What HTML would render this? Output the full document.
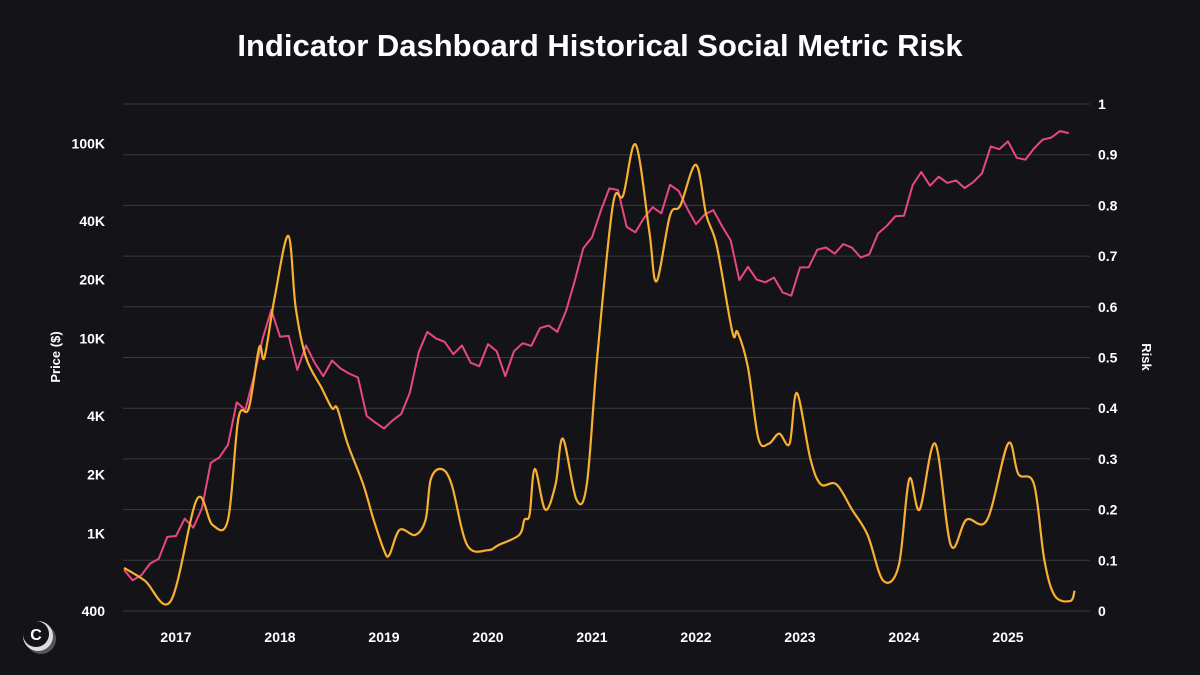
<!DOCTYPE html>
<html><head><meta charset="utf-8"><style>
html,body{margin:0;padding:0;background:#131318;}
svg{display:block;font-family:"Liberation Sans",sans-serif;}
</style></head><body>
<svg id="chart" width="1200" height="675" viewBox="0 0 1200 675">
<rect width="1200" height="675" fill="#131318"/>
<text x="600" y="56" text-anchor="middle" fill="#fff" font-size="31" font-weight="bold">Indicator Dashboard Historical Social Metric Risk</text>
<g id="grid"></g><g id="axes"></g><g id="series"></g>
<text transform="translate(60,357) rotate(-90)" text-anchor="middle" fill="#fff" font-size="13" font-weight="bold">Price ($)</text>
<text transform="translate(1142,357) rotate(90)" text-anchor="middle" fill="#fff" font-size="13" font-weight="bold">Risk</text>
<g><circle cx="41" cy="639" r="15" fill="#555"/><circle cx="38" cy="636" r="15" fill="#ddd"/><circle cx="36" cy="634" r="13" fill="#131318"/><text x="36" y="640" text-anchor="middle" fill="#fff" font-size="16" font-weight="bold">C</text></g>
</svg>
<script>
const priceDates=[];for(let i=0;i<110;i++)priceDates.push(2016.5+i/12);
const priceValues=[650,575,610,700,740,960,970,1190,1070,1350,2300,2450,2850,4700,4300,6400,10000,14000,10200,10300,6900,9200,7500,6400,7700,7000,6600,6300,4000,3700,3450,3800,4100,5300,8500,10800,10000,9600,8300,9200,7500,7200,9350,8600,6400,8600,9450,9150,11300,11650,10800,13800,19700,29000,33000,45000,58800,57700,37300,35000,41500,47100,43800,61300,57000,46300,38500,43200,45500,37700,31800,19900,23300,20000,19400,20500,17200,16550,23100,23150,28500,29250,27200,30500,29200,26000,27000,34500,37700,42300,42600,61200,71300,60700,67500,62700,64600,59000,63300,70200,96400,93400,102400,84400,82500,94200,104600,107100,115700,113000];
const riskDates=[2016.5,2016.7,2016.95,2017.2,2017.35,2017.5,2017.6,2017.7,2017.8,2017.85,2017.95,2018.08,2018.15,2018.25,2018.4,2018.5,2018.55,2018.65,2018.8,2018.9,2019.0,2019.05,2019.15,2019.3,2019.4,2019.45,2019.55,2019.65,2019.8,2020.0,2020.1,2020.3,2020.35,2020.4,2020.45,2020.55,2020.65,2020.72,2020.85,2020.95,2021.05,2021.2,2021.3,2021.42,2021.55,2021.62,2021.75,2021.85,2022.0,2022.1,2022.2,2022.35,2022.4,2022.5,2022.6,2022.7,2022.8,2022.9,2022.97,2023.1,2023.2,2023.35,2023.5,2023.65,2023.8,2023.95,2024.05,2024.15,2024.3,2024.45,2024.6,2024.8,2025.0,2025.1,2025.25,2025.35,2025.45,2025.6,2025.64];
const riskValues=[0.085,0.06,0.02,0.22,0.17,0.18,0.38,0.4,0.52,0.5,0.62,0.74,0.6,0.5,0.44,0.4,0.4,0.33,0.25,0.18,0.12,0.11,0.16,0.15,0.18,0.26,0.28,0.25,0.13,0.12,0.13,0.15,0.18,0.19,0.28,0.2,0.25,0.34,0.22,0.25,0.5,0.8,0.82,0.92,0.75,0.65,0.78,0.8,0.88,0.78,0.72,0.55,0.55,0.48,0.34,0.33,0.35,0.33,0.43,0.3,0.25,0.25,0.2,0.15,0.06,0.09,0.26,0.2,0.33,0.13,0.18,0.18,0.33,0.27,0.25,0.1,0.03,0.02,0.04];
const yearTicks=[2017,2018,2019,2020,2021,2022,2023,2024,2025];
const priceTicks=[400,1000,2000,4000,10000,20000,40000,100000];
const priceTickLabels=["400","1K","2K","4K","10K","20K","40K","100K"];
const riskTicks=[0,0.1,0.2,0.3,0.4,0.5,0.6,0.7,0.8,0.9,1];
const NS="http://www.w3.org/2000/svg";
const X0=123,X1=1090;
const xS=y=>176+(y-2017)*104;
const yP=p=>611-Math.log10(p/400)*195;
const yR=r=>611-r*507;
function mk(t,a,parent){const e=document.createElementNS(NS,t);for(const k in a)e.setAttribute(k,a[k]);document.getElementById(parent).appendChild(e);return e;}
riskTicks.forEach(r=>{
 const l=mk('line',{x1:X0,x2:X1,y1:yR(r),y2:yR(r),stroke:'#3a3a42','stroke-width':1},'grid');
 
 
 const t=mk('text',{x:1098,y:yR(r)+5,fill:'#fff','font-size':14,'font-weight':'bold'},'axes');t.textContent=String(r);
 
 
});
priceTicks.forEach((p,i)=>{
 const t=mk('text',{x:105,y:yP(p)+5,fill:'#fff','font-size':14,'font-weight':'bold','text-anchor':'end'},'axes');t.textContent=priceTickLabels[i];
 
 
});
yearTicks.forEach(y=>{
 const t=mk('text',{x:xS(y),y:642,fill:'#fff','font-size':14,'font-weight':'bold','text-anchor':'middle'},'axes');t.textContent=String(y);
 
 
});
function smooth(pts){
 let d='M'+pts[0][0].toFixed(1)+','+pts[0][1].toFixed(1);
 for(let i=0;i<pts.length-1;i++){
  const p0=pts[Math.max(0,i-1)],p1=pts[i],p2=pts[i+1],p3=pts[Math.min(pts.length-1,i+2)];
  const c1=[p1[0]+(p2[0]-p0[0])/6,p1[1]+(p2[1]-p0[1])/6];
  const c2=[p2[0]-(p3[0]-p1[0])/6,p2[1]-(p3[1]-p1[1])/6];
  d+=' C'+c1[0].toFixed(1)+','+c1[1].toFixed(1)+' '+c2[0].toFixed(1)+','+c2[1].toFixed(1)+' '+p2[0].toFixed(1)+','+p2[1].toFixed(1);
 }
 return d;
}
const pp=mk('polyline',{points:priceDates.map((d,i)=>xS(d).toFixed(1)+','+yP(priceValues[i]).toFixed(1)).join(' '),fill:'none',stroke:'#e8487f','stroke-width':2,'stroke-linejoin':'round'},'series');


const rp=mk('path',{d:smooth(riskDates.map((d,i)=>[xS(d),yR(riskValues[i])])),fill:'none',stroke:'#f7b031','stroke-width':2.2,'stroke-linejoin':'round'},'series');


</script>
</body></html>
